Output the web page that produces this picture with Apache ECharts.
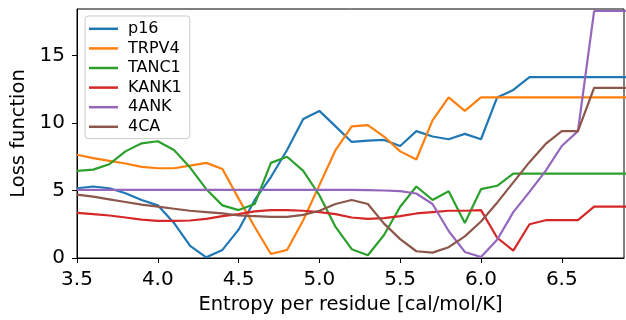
<!DOCTYPE html>
<html>
<head>
<meta charset="utf-8">
<script src="https://cdn.jsdelivr.net/npm/echarts@6/dist/echarts.min.js"></script>
<style>html,body{margin:0;padding:0;background:#fff;}#c{width:626px;height:320px;}</style>
</head>
<body>
<div id="c"></div>
<script>
var entropy = [3.5,3.6,3.7,3.8,3.9,4.0,4.1,4.2,4.3,4.4,4.5,4.6,4.7,4.8,4.9,5.0,5.1,5.2,5.3,5.4,5.5,5.6,5.7,5.8,5.9,6.0,6.1,6.2,6.3,6.4,6.5,6.6,6.7,6.8,6.9];
var p16   = [5.17,5.3,5.17,4.8,4.3,3.9,2.6,0.9,0.05,0.6,2.1,4.3,6.0,8.0,10.3,10.9,9.75,8.6,8.7,8.75,8.3,9.4,9.0,8.8,9.2,8.8,11.9,12.45,13.4,13.4,13.4,13.4,13.4,13.4,13.4];
var trpv4 = [7.65,7.4,7.2,7.0,6.75,6.65,6.65,6.85,7.05,6.6,4.4,2.3,0.3,0.6,2.8,5.4,8.0,9.75,9.85,9.0,7.9,7.3,10.2,11.9,10.9,11.9,11.9,11.9,11.9,11.9,11.9,11.9,11.9,11.9,11.9];
var tanc1 = [6.45,6.55,6.95,7.9,8.5,8.65,8.0,6.7,5.1,3.9,3.55,4.0,7.05,7.5,6.45,4.65,2.3,0.65,0.2,1.7,3.8,5.3,4.3,4.95,2.6,5.1,5.35,6.25,6.25,6.25,6.25,6.25,6.25,6.25,6.25];
var kank1 = [3.35,3.25,3.15,3.0,2.85,2.75,2.75,2.78,2.9,3.1,3.25,3.45,3.55,3.55,3.5,3.4,3.25,3.0,2.9,2.95,3.1,3.3,3.4,3.5,3.5,3.55,1.5,0.55,2.5,2.8,2.8,2.8,3.8,3.8,3.8];
var ank4  = [5.05,5.05,5.05,5.05,5.05,5.05,5.05,5.05,5.05,5.05,5.05,5.05,5.05,5.05,5.05,5.05,5.05,5.05,5.03,5.0,4.95,4.78,4.0,2.0,0.45,0.07,1.35,3.4,4.9,6.45,8.3,9.4,18.3,18.3,18.3];
var ca4   = [4.7,4.55,4.35,4.15,3.95,3.8,3.65,3.5,3.4,3.3,3.15,3.1,3.05,3.05,3.2,3.5,4.0,4.3,4.0,2.55,1.4,0.5,0.4,0.8,1.6,2.7,4.1,5.6,7.1,8.45,9.4,9.4,12.6,12.6,12.6];
var seriesNames = ["p16","TRPV4","TANC1","KANK1","4ANK","4CA"];
var seriesColors = ["#1f77b4","#ff7f0e","#2ca02c","#d62728","#9467bd","#8c564b"];
var xTicks = [3.5,4.0,4.5,5.0,5.5,6.0,6.5];
var yTicks = [0,5,10,15];
var xLabel = "Entropy per residue [cal/mol/K]";
var yLabel = "Loss function";

var allData = [p16,trpv4,tanc1,kank1,ank4,ca4];
var series = seriesNames.map(function(n,i){
  return {
    name:n, type:'line', showSymbol:false, symbol:'none', clip:true,
    data: entropy.map(function(x,j){return [x, allData[i][j]];}),
    lineStyle:{width:2.2,color:seriesColors[i]}, itemStyle:{color:seriesColors[i]},
    animation:false
  };
});
var font = 'DejaVu Sans';
var chart = echarts.init(document.getElementById('c'), null, {renderer:'canvas'});
chart.setOption({
  animation:false,
  backgroundColor:'#fff',
  grid:{left:77,right:2,top:9,bottom:58,show:true,borderColor:'#000',borderWidth:1,backgroundColor:'transparent'},
  legend:{
    orient:'vertical', left:85, top:16, icon:'rect', itemWidth:29, itemHeight:2.5, itemGap:0,
    padding:[3,8,2,4], backgroundColor:'#fff', borderColor:'#cccccc', borderWidth:1, borderRadius:3,
    textStyle:{fontFamily:font,fontSize:16,color:'#000',lineHeight:19.6,padding:[0,0,0,5]},
    data:seriesNames
  },
  xAxis:{
    type:'value', min:3.5, max:6.885,
    name:xLabel, nameLocation:'middle', nameGap:37,
    nameTextStyle:{fontFamily:font,fontSize:19.5,color:'#000'},
    axisLine:{show:true,lineStyle:{color:'#000',width:1}},
    axisTick:{show:true,length:5,inside:false,customValues:xTicks,lineStyle:{color:'#000',width:1}},
    axisLabel:{fontFamily:font,fontSize:20,color:'#000',margin:12,customValues:xTicks,formatter:function(v){return v.toFixed(1);}},
    splitLine:{show:false}
  },
  yAxis:{
    type:'value', min:0, max:18.45,
    name:yLabel, nameLocation:'middle', nameGap:44, nameRotate:90,
    nameTextStyle:{fontFamily:font,fontSize:19.5,color:'#000'},
    axisLine:{show:true,lineStyle:{color:'#000',width:1}},
    axisTick:{show:true,length:5,inside:false,customValues:yTicks,lineStyle:{color:'#000',width:1}},
    axisLabel:{fontFamily:font,fontSize:20,color:'#000',margin:12,customValues:yTicks},
    splitLine:{show:false}
  },
  series:series
});
</script>
</body>
</html>
